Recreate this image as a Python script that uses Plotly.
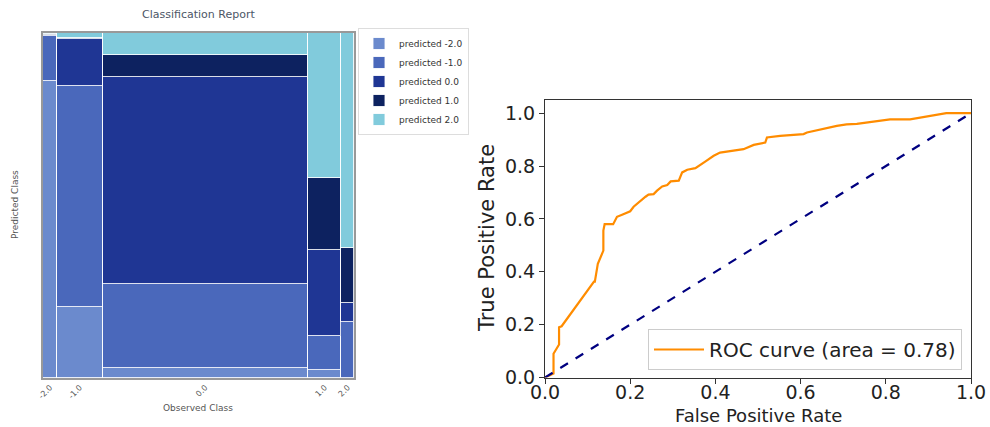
import plotly.graph_objects as go

# ---------------- data ----------------
observed_classes = ["-2.0", "-1.0", "0.0", "1.0", "2.0"]
observed_share = [0.045, 0.145, 0.655, 0.107, 0.040]

predicted_labels = ["predicted -2.0", "predicted -1.0", "predicted 0.0",
                    "predicted 1.0", "predicted 2.0"]
pred_m2 = [0.860, 0.206, 0.030, 0.023, 0.000]
pred_m1 = [0.130, 0.640, 0.243, 0.099, 0.162]
pred_0 = [0.004, 0.136, 0.600, 0.250, 0.055]
pred_1 = [0.003, 0.004, 0.064, 0.209, 0.160]
pred_2 = [0.003, 0.014, 0.063, 0.419, 0.623]
pred_colors = ["#6b8acd", "#4a68bb", "#1f3694", "#0d2260", "#81cbdc"]

fpr = [0.0, 0.020, 0.020, 0.033, 0.033, 0.039, 0.115, 0.117, 0.124, 0.137,
       0.137, 0.140, 0.160, 0.169, 0.181, 0.200, 0.208, 0.224, 0.236, 0.243,
       0.255, 0.263, 0.275, 0.287, 0.295, 0.314, 0.322, 0.334, 0.353, 0.376,
       0.396, 0.411, 0.423, 0.439, 0.466, 0.490, 0.517, 0.521, 0.552, 0.607,
       0.615, 0.685, 0.708, 0.732, 0.771, 0.810, 0.857, 0.903, 0.942, 1.0]
tpr = [0.0, 0.015, 0.090, 0.125, 0.190, 0.194, 0.363, 0.363, 0.430, 0.480,
       0.556, 0.580, 0.580, 0.608, 0.616, 0.629, 0.646, 0.669, 0.684, 0.692,
       0.694, 0.707, 0.723, 0.728, 0.742, 0.745, 0.776, 0.786, 0.792, 0.817,
       0.839, 0.851, 0.854, 0.860, 0.864, 0.880, 0.889, 0.908, 0.914, 0.921,
       0.927, 0.952, 0.958, 0.960, 0.968, 0.977, 0.977, 0.990, 1.0, 1.0]
roc_auc = 0.78
chance_x = [0, 1]
chance_y = [0, 1]
roc_ticks = [0, 0.2, 0.4, 0.6, 0.8, 1.0]
roc_ticktext = ["0.0", "0.2", "0.4", "0.6", "0.8", "1.0"]

# ---------------- mosaic geometry from data ----------------
total = sum(observed_share)
widths = [s / total for s in observed_share]
centers = []
acc = 0.0
for w in widths:
    centers.append(acc + w / 2)
    acc += w

fig = go.Figure()
series = [pred_m2, pred_m1, pred_0, pred_1, pred_2]
for name, vals, col in zip(predicted_labels, series, pred_colors):
    fig.add_trace(go.Bar(
        x=centers, y=vals, width=widths, name=name,
        marker=dict(color=col, line=dict(color="rgba(255,255,255,0.85)", width=1)),
        xaxis="x", yaxis="y", legend="legend",
    ))

fig.add_trace(go.Scatter(
    x=fpr, y=tpr, mode="lines", name=f"ROC curve (area = {roc_auc:.2f})",
    line=dict(color="#ff8c00", width=2.2), xaxis="x2", yaxis="y2", legend="legend2",
))
fig.add_trace(go.Scatter(
    x=chance_x, y=chance_y, mode="lines", showlegend=False,
    line=dict(color="#000080", width=2.2, dash="dash"), xaxis="x2", yaxis="y2",
))

W, H = 990, 427
def fx(px):
    return px / W
def fy(py):
    return (H - py) / H

def ann(text, px, py, size, color, angle=0):
    return dict(text=text, x=fx(px), y=fy(py), xref="paper", yref="paper",
                showarrow=False, textangle=angle, xanchor="center", yanchor="middle",
                font=dict(size=size, color=color))

fig.update_layout(
    width=W, height=H, margin=dict(l=0, r=0, t=0, b=0, autoexpand=False),
    paper_bgcolor="white", plot_bgcolor="white",
    barmode="stack", bargap=0,
    font=dict(family="DejaVu Sans", color="#222"),
    xaxis=dict(domain=[fx(43), fx(354)], range=[0, 1], tickmode="array",
               tickvals=centers, ticktext=observed_classes, tickangle=-45,
               tickfont=dict(size=8, color="#555"), ticks="", showgrid=False,
               zeroline=False, showline=True, linecolor="#999", linewidth=1.5,
               mirror=True, anchor="y", automargin=False),
    yaxis=dict(domain=[fy(378), fy(33)], range=[0, 1], showticklabels=False,
               ticks="", showgrid=False, zeroline=False, showline=True,
               linecolor="#999", linewidth=1.5, mirror=True, anchor="x",
               automargin=False),
    xaxis2=dict(domain=[fx(545), fx(971)], range=[0, 1], anchor="y2",
                tickvals=roc_ticks, ticktext=roc_ticktext,
                tickfont=dict(size=19, color="#222"), ticks="outside", ticklen=5,
                ticklabelstandoff=-7,
                tickcolor="#333", showgrid=False, zeroline=False, showline=True,
                linecolor="#333", linewidth=1, mirror=True, automargin=False),
    yaxis2=dict(domain=[fy(377.5), fy(100)], range=[0, 1.05], anchor="x2",
                tickvals=roc_ticks, ticktext=roc_ticktext,
                tickfont=dict(size=19, color="#222"), ticks="outside", ticklen=5,
                tickcolor="#333", showgrid=False, zeroline=False, showline=True,
                linecolor="#333", linewidth=1, mirror=True, automargin=False),
    legend=dict(x=fx(358), y=fy(28), xanchor="left", yanchor="top",
                traceorder="normal", font=dict(size=9, color="#333"),
                bgcolor="white", bordercolor="#ddd", borderwidth=1,
                itemwidth=30, tracegroupgap=0),
    legend2=dict(x=fx(962), y=fy(370), xanchor="right", yanchor="bottom",
                 font=dict(size=20, color="#222"), bgcolor="white",
                 bordercolor="#ccc", borderwidth=1, itemwidth=50),
    annotations=[
        ann("Classification Report", 198, 14, 11, "#4c5666"),
        ann("Observed Class", 198, 408, 9, "#555"),
        ann("Predicted Class", 15, 205, 9, "#555", -90),
        ann("True Positive Rate", 487, 238, 21, "#222", -90),
        ann("False Positive Rate", 758, 415, 18, "#222"),
    ],
)

fig.write_html("out.html", config={"displayModeBar": False},
               post_script="document.body.style.margin='0';document.body.style.overflow='hidden';")
